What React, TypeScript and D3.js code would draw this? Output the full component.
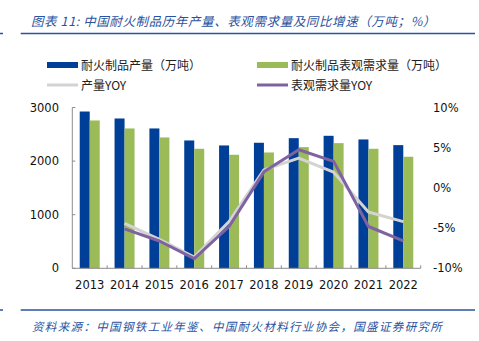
import React from "react";
import * as d3 from "d3";

const years = ["2013","2014","2015","2016","2017","2018","2019","2020","2021","2022"];
const production = [2925, 2795, 2609, 2385, 2292, 2342, 2428, 2472, 2404, 2298];
const demand = [2758, 2609, 2441, 2230, 2118, 2161, 2261, 2335, 2230, 2081];
const prodYoy: (number | null)[] = [null, -4.4, -6.4, -8.6, -4.2, 2.25, 3.7, 1.95, -3.0, -4.2];
const demandYoy: (number | null)[] = [null, -5.1, -6.6, -8.8, -4.8, 2.0, 4.75, 3.3, -4.8, -6.6];
const leftTicks = [0, 1000, 2000, 3000];
const rightTicks = [-10, -5, 0, 5, 10];

const BLUE = "#003F98";
const GREEN = "#9BBB59";
const GRAY = "#D3D3D3";
const PURPLE = "#7F62A1";
const TITLE_BLUE = "#2A52A0";
const AXIS = "#8C8C8C";
const FONT = "'DejaVu Sans', Verdana, sans-serif";
const CJK = "'Noto Sans CJK SC', sans-serif";

export default function App() {
  const W = 479, H = 341;
  const x0 = 72.3, x1 = 420.7, yTop = 107.5, yBot = 268.3;
  const x = d3.scaleBand<string>().domain(years).range([x0, x1]).padding(0);
  const inner = d3.scaleBand<string>().domain(["p", "d"]).range([0, x.bandwidth()]).paddingInner(0).paddingOuter(0.742);
  const yL = d3.scaleLinear().domain([0, 3000]).range([yBot, yTop]);
  const yR = d3.scaleLinear().domain([-10, 10]).range([yBot, yTop]);
  const cx = (y: string) => (x(y) as number) + x.bandwidth() / 2;

  const mkLine = (vals: (number | null)[]) =>
    d3.line<number | null>()
      .defined((d) => d !== null)
      .x((_, i) => cx(years[i]))
      .y((d) => yR(d as number))(vals) || "";

  return (
    <div style={{ position: "absolute", left: 0, top: 0 }}>
      <svg width={W} height={H} style={{ display: "block", background: "#fff" }}>
        {/* title */}
        <text x={31} y={26} fill={TITLE_BLUE} fontFamily={CJK} fontSize={12.5} fontStyle="italic" letterSpacing={0.6}>
          图表 11:  中国耐火制品历年产量、表观需求量及同比增速（万吨；%）
        </text>
        <line x1={20.7} x2={475} y1={33.5} y2={33.5} stroke={TITLE_BLUE} strokeWidth={1.5} />
        <line x1={0} x2={3} y1={33.5} y2={33.5} stroke={TITLE_BLUE} strokeWidth={1.5} />

        {/* legend */}
        <rect x={47} y={62} width={31} height={6} fill={BLUE} />
        <text x={81} y={69.5} fontFamily={CJK} fontSize={12} fill="#222">耐火制品产量（万吨）</text>
        <rect x={257} y={62} width={31} height={6} fill={GREEN} />
        <text x={291} y={69.5} fontFamily={CJK} fontSize={12} fill="#222">耐火制品表观需求量（万吨）</text>
        <line x1={47} x2={78} y1={85} y2={85} stroke={GRAY} strokeWidth={3} />
        <text x={81} y={89.5} fontFamily={CJK} fontSize={12} fill="#222">产量YOY</text>
        <line x1={257} x2={288} y1={85} y2={85} stroke={PURPLE} strokeWidth={3} />
        <text x={291} y={89.5} fontFamily={CJK} fontSize={12} fill="#222">表观需求量YOY</text>

        {/* bars */}
        {years.map((yr, i) => (
          <g key={yr}>
            <rect x={(x(yr) as number) + (inner("p") as number)} y={yL(production[i])} width={inner.bandwidth()} height={yBot - yL(production[i])} fill={BLUE} />
            <rect x={(x(yr) as number) + (inner("d") as number)} y={yL(demand[i])} width={inner.bandwidth()} height={yBot - yL(demand[i])} fill={GREEN} />
          </g>
        ))}

        {/* lines */}
        <path d={mkLine(prodYoy)} fill="none" stroke={GRAY} strokeWidth={3} strokeLinejoin="round" />
        <path d={mkLine(demandYoy)} fill="none" stroke={PURPLE} strokeWidth={3} strokeLinejoin="round" />

        {/* axes */}
        <line x1={x0} x2={x0} y1={yTop} y2={yBot} stroke={AXIS} strokeWidth={1} />
        <line x1={x0} x2={x1} y1={yBot} y2={yBot} stroke={AXIS} strokeWidth={1} />
        {leftTicks.map((t) => (
          <g key={t}>
            <line x1={x0} x2={x0 + 3} y1={yL(t)} y2={yL(t)} stroke={AXIS} />
            <text x={59} y={yL(t) + 4} textAnchor="end" fontFamily={FONT} fontSize={11.5} fill="#111">{t}</text>
          </g>
        ))}
        {years.map((yr) => (
          <line key={yr} x1={(x(yr) as number) + x.bandwidth()} x2={(x(yr) as number) + x.bandwidth()} y1={yBot} y2={yBot - 3} stroke={AXIS} />
        ))}
        {years.map((yr) => (
          <text key={yr} x={cx(yr)} y={289} textAnchor="middle" fontFamily={FONT} fontSize={11.5} fill="#111">{yr}</text>
        ))}
        {rightTicks.map((t) => (
          <text key={t} x={433} y={yR(t) + 4} textAnchor="start" fontFamily={FONT} fontSize={11.5} fill="#111">{t}%</text>
        ))}

        {/* source */}
        <line x1={20.7} x2={475} y1={310} y2={310} stroke={TITLE_BLUE} strokeWidth={1.5} />
        <line x1={0} x2={3} y1={310} y2={310} stroke={TITLE_BLUE} strokeWidth={1.5} />
        <text x={32} y={331} fill={TITLE_BLUE} fontFamily={CJK} fontSize={11.5} fontStyle="italic" letterSpacing={1.35}>
          资料来源：中国钢铁工业年鉴、中国耐火材料行业协会，国盛证券研究所
        </text>
      </svg>
    </div>
  );
}
